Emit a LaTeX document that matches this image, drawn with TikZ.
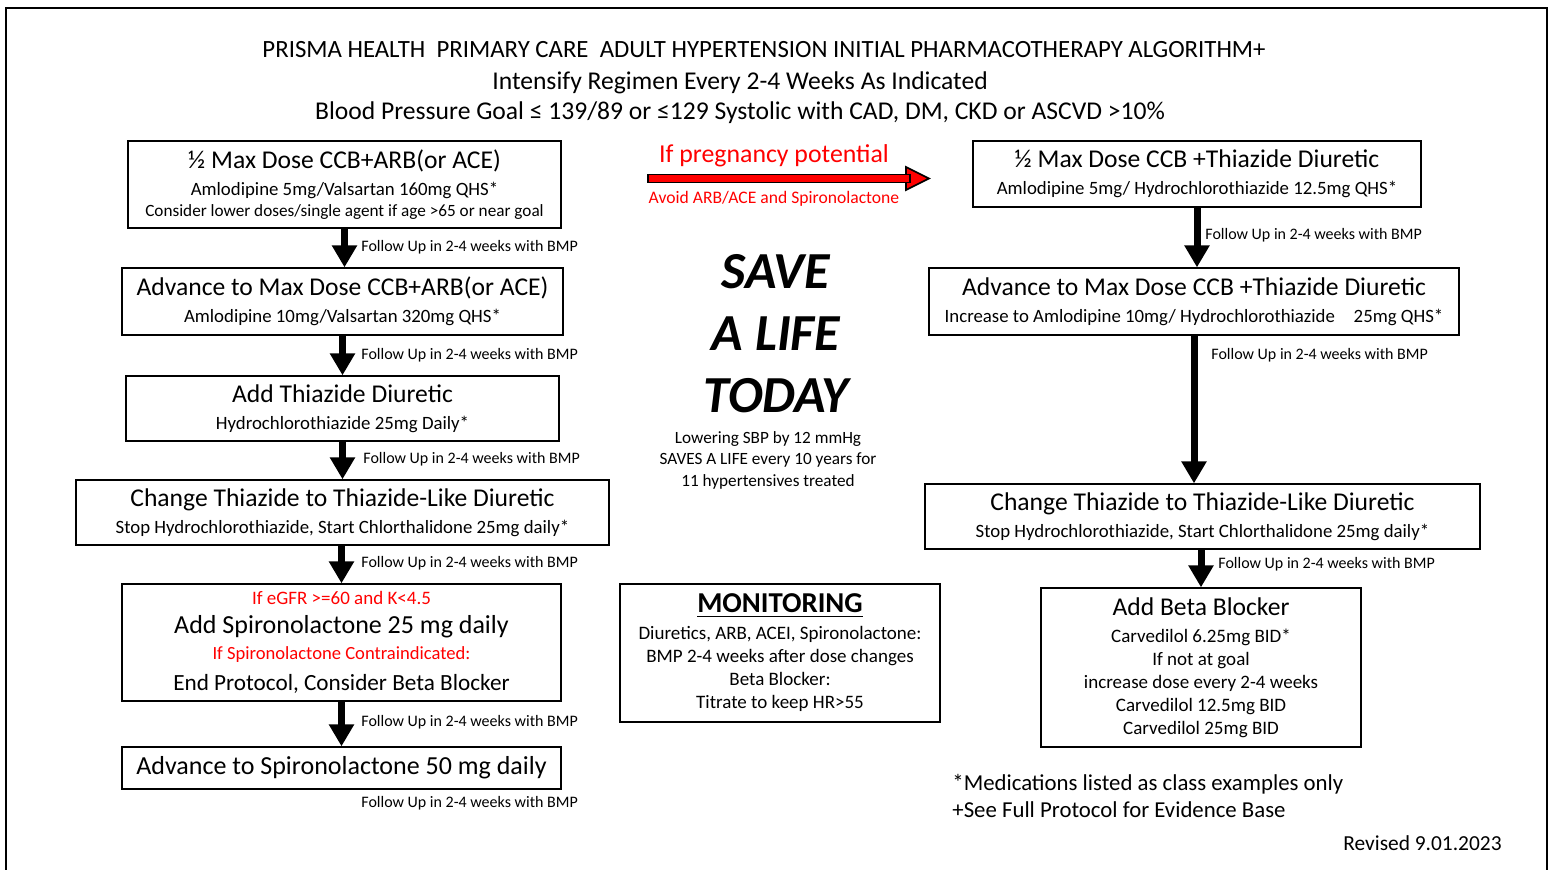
\documentclass[tikz,border=0pt]{standalone}
\usepackage{fontspec}
\setmainfont{Carlito}
\usepackage{tikz}
\usetikzlibrary{arrows.meta, positioning}
\newlength{\pxu}
\setlength{\pxu}{0.5pt}
\newcommand{\fs}[2]{\fontsize{#1}{#2}\selectfont}
\newcommand{\ttl}{\fontsize{12.8}{13.5}\selectfont}
\tikzstyle{line} = [draw, -{Triangle[length=11pt,width=12pt]}, line width=3.5pt]

\begin{document}
\begin{tikzpicture}[x=0.5pt, y=-0.5pt]
  \tikzset{
    stepbox/.style={
      rectangle,
      draw=black,
      line width=0.65pt,
      fill=white,
      align=center,
      inner sep=0pt,
      minimum width=#1\pxu,
      font=\fs{9.4}{13.5},
    },
    followup/.style={
      anchor=west,
      inner sep=0pt,
      font=\fs{8}{9},
    },
    redtext/.style={text=red},
  }

  % frame
  \useasboundingbox (0,0) rectangle (1554,869);
  \draw[line width=1.25pt] (6,875) -- (6,8) -- (1547,8) -- (1547,875);

  % heading
  \node (head1) at (764,49.5) {\fs{12.4}{14}PRISMA HEALTH\ \ PRIMARY CARE\ \ ADULT HYPERTENSION INITIAL PHARMACOTHERAPY ALGORITHM+};
  \node (head2) at (740,82.5) {\fs{12.8}{14}Intensify Regimen Every 2-4 Weeks As Indicated};
  \node (head3) at (740,112.5) {\fs{12.8}{14}Blood Pressure Goal ≤ 139/89 or ≤129 Systolic with CAD, DM, CKD or ASCVD >10\%};

  % left column
  \node[stepbox=433, minimum height=87\pxu] (ccbarb) at (344.5,184.5)
    {\ttl ½ Max Dose CCB+ARB(or ACE)\\
     Amlodipine 5mg/Valsartan 160mg QHS*\\[-3pt]
     \fs{8.6}{10}Consider lower doses/single agent if age >65 or near goal};
  \node[stepbox=441, minimum height=67\pxu] (maxarb) at (342.5,301.5)
    {\ttl Advance to Max Dose CCB+ARB(or ACE)\\
     Amlodipine 10mg/Valsartan 320mg QHS*};
  \node[stepbox=433, minimum height=65\pxu] (thiaz) at (342.5,408.5)
    {\ttl Add Thiazide Diuretic\\
     Hydrochlorothiazide 25mg Daily*};
  \node[stepbox=533, minimum height=65\pxu] (thlike) at (342.5,512.5)
    {\ttl Change Thiazide to Thiazide-Like Diuretic\\
     Stop Hydrochlorothiazide, Start Chlorthalidone 25mg daily*};
  \node[stepbox=439, minimum height=117\pxu] (spiro) at (341.5,642.5)
    {\fs{9.5}{10}\color{red}If eGFR >=60 and K<4.5\\[1pt]
     \fs{13}{14}Add Spironolactone 25 mg daily\\[-0.5pt]
     \fs{9.3}{10}\color{red}If Spironolactone Contraindicated:\\[2pt]
     \fs{11.6}{13}End Protocol, Consider Beta Blocker};
  \node[stepbox=439, minimum height=42\pxu] (spiromax) at (341.5,768)
    {\fs{13}{14}Advance to Spironolactone 50 mg daily};

  \draw[line] (ccbarb) -- (ccbarb.south |- maxarb.north);
  \draw[line] (maxarb) -- (maxarb.south |- thiaz.north);
  \draw[line] (thiaz) -- (thiaz.south |- thlike.north);
  \draw[line] (thlike.south -| spiro) -- (spiro.north);
  \draw[line] (spiro) -- (spiro.south |- spiromax.north);

  \node[followup] (fu1) at (361,247) {Follow Up in 2-4 weeks with BMP};
  \node[followup] (fu2) at (361,355) {Follow Up in 2-4 weeks with BMP};
  \node[followup] (fu3) at (363,459) {Follow Up in 2-4 weeks with BMP};
  \node[followup] (fu4) at (361,563) {Follow Up in 2-4 weeks with BMP};
  \node[followup] (fu5) at (361,722) {Follow Up in 2-4 weeks with BMP};
  \node[followup] (fu6) at (361,803) {Follow Up in 2-4 weeks with BMP};

  % pregnancy arrow
  \node[redtext] (preg) at (774,155.5) {\fs{12.9}{14}If pregnancy potential};
  \node[redtext] (avoid) at (774,199) {\fs{8.8}{10}Avoid ARB/ACE and Spironolactone};
  \draw[fill=red, line width=0.8pt] (906,167) -- (929,178.5) -- (906,190) -- cycle;
  \draw[fill=red, line width=0.8pt] (648,174.5) rectangle (910,182.5);

  % middle
  \node[align=center, font=\fs{26}{31}\bfseries\itshape] (save) at (776,334)
    {SAVE\\A LIFE\\TODAY};
  \node[align=center, font=\fs{8.6}{10.75}] (lower) at (768,460)
    {Lowering SBP by 12 mmHg\\SAVES A LIFE every 10 years for\\11 hypertensives treated};
  \node[stepbox=320, minimum height=138\pxu, font=\fs{9.5}{11.5}] (monitor) at (780,653)
    {\fs{14.4}{15}\bfseries\underline{MONITORING}\\[2pt]
     Diuretics, ARB, ACEI, Spironolactone:\\
     BMP 2-4 weeks after dose changes\\
     Beta Blocker:\\
     Titrate to keep HR>55};

  % right column
  \node[stepbox=448, minimum height=66\pxu] (ccbthz) at (1197,174)
    {\ttl ½ Max Dose CCB +Thiazide Diuretic\\
     Amlodipine 5mg/ Hydrochlorothiazide 12.5mg QHS*};
  \node[stepbox=530, minimum height=67\pxu] (maxthz) at (1194,301.5)
    {\ttl Advance to Max Dose CCB +Thiazide Diuretic\\
     Increase to Amlodipine 10mg/ Hydrochlorothiazide\quad 25mg QHS*};
  \node[stepbox=555, minimum height=65\pxu] (rthlike) at (1202.5,516.5)
    {\ttl Change Thiazide to Thiazide-Like Diuretic\\
     Stop Hydrochlorothiazide, Start Chlorthalidone 25mg daily*};
  \node[stepbox=320, minimum height=159\pxu, font=\fs{9.5}{11.5}] (beta) at (1201,667.5)
    {\ttl Add Beta Blocker\\[2pt]
     Carvedilol 6.25mg BID*\\
     If not at goal\\
     increase dose every 2-4 weeks\\
     Carvedilol 12.5mg BID\\
     Carvedilol 25mg BID};

  \draw[line] (ccbthz) -- (ccbthz.south |- maxthz.north);
  \draw[line] (maxthz) -- (maxthz.south |- rthlike.north);
  \draw[line] (rthlike.south -| beta) -- (beta.north);

  \node[followup] (rfu1) at (1205,235) {Follow Up in 2-4 weeks with BMP};
  \node[followup] (rfu2) at (1211,355) {Follow Up in 2-4 weeks with BMP};
  \node[followup] (rfu3) at (1218,564) {Follow Up in 2-4 weeks with BMP};

  \node[anchor=west, align=left, inner sep=0pt, font=\fs{11.4}{13.5}] (notes) at (952,795.5)
    {*Medications listed as class examples only\\+See Full Protocol for Evidence Base};
  \node[anchor=east, inner sep=0pt] (revised) at (1502,843) {\fs{10.7}{12}Revised 9.01.2023};
\end{tikzpicture}
\end{document}
